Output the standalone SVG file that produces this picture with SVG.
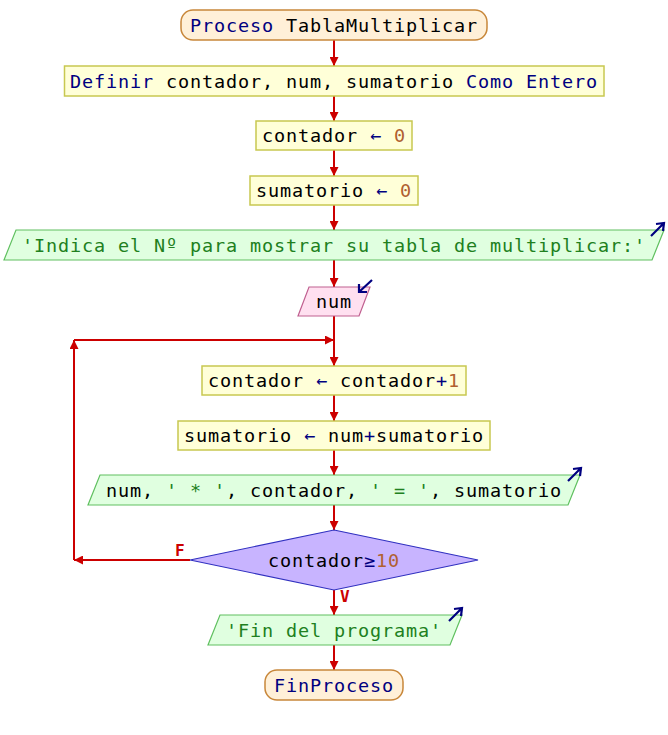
<svg xmlns="http://www.w3.org/2000/svg" width="668" height="735" viewBox="0 0 668 735">
<defs>
<marker id="ah" viewBox="0 0 10 10" refX="10" refY="5" markerWidth="10" markerHeight="9" markerUnits="userSpaceOnUse" orient="auto">
<path d="M0,0 L10,5 L0,10 z" fill="#cc0000"/>
</marker>
<style>
text{font-family:"DejaVu Sans Mono","Liberation Mono",monospace;font-size:18.5px;letter-spacing:0.86px;fill:#000}
.kw{fill:#000080}
.nm{fill:#b06030}
.st{fill:#208020}
.term{fill:#fff0d8;stroke:#c8873a;stroke-width:1.5}
.proc{fill:#ffffd8;stroke:#c8c850;stroke-width:1.5}
.out{fill:#e0ffe0;stroke:#60c060;stroke-width:1.2}
.inp{fill:#ffe0f0;stroke:#c06090;stroke-width:1.2}
.dec{fill:#c8b4ff;stroke:#3030c0;stroke-width:1.2}
.conn{stroke:#cc0000;stroke-width:2;fill:none}
.io{stroke:#000080;stroke-width:2.2;fill:none}
.lab{font-family:"DejaVu Sans Mono",monospace;font-size:16px;font-weight:bold;fill:#cc0000;letter-spacing:0}
</style>
</defs>
<g id="connectors">
<line class="conn" x1="334" y1="40" x2="334" y2="66" marker-end="url(#ah)"/>
<line class="conn" x1="334" y1="96" x2="334" y2="121" marker-end="url(#ah)"/>
<line class="conn" x1="334" y1="150" x2="334" y2="176" marker-end="url(#ah)"/>
<line class="conn" x1="334" y1="205" x2="334" y2="230" marker-end="url(#ah)"/>
<line class="conn" x1="334" y1="260" x2="334" y2="287" marker-end="url(#ah)"/>
<line class="conn" x1="334" y1="316" x2="334" y2="366" marker-end="url(#ah)"/>
<line class="conn" x1="74" y1="340" x2="334" y2="340" marker-end="url(#ah)"/>
<line class="conn" x1="74" y1="560" x2="74" y2="340" marker-end="url(#ah)"/>
<line class="conn" x1="190" y1="560" x2="74" y2="560" marker-end="url(#ah)"/>
<line class="conn" x1="334" y1="395" x2="334" y2="421" marker-end="url(#ah)"/>
<line class="conn" x1="334" y1="450" x2="334" y2="475" marker-end="url(#ah)"/>
<line class="conn" x1="334" y1="505" x2="334" y2="530" marker-end="url(#ah)"/>
<line class="conn" x1="334" y1="590" x2="334" y2="615" marker-end="url(#ah)"/>
<line class="conn" x1="334" y1="645" x2="334" y2="670" marker-end="url(#ah)"/>
<text class="lab" x="175" y="556">F</text>
<text class="lab" x="340" y="602">V</text>
</g>
<g id="start">
<rect class="term" x="181" y="10" width="306" height="30" rx="12"/>
<text x="190" y="31.5"><tspan class="kw">Proceso</tspan> TablaMultiplicar</text>
</g>
<g id="definir">
<rect class="proc" x="64.5" y="66" width="539.5" height="30"/>
<text x="70" y="87.5"><tspan class="kw">Definir</tspan> contador, num, sumatorio <tspan class="kw">Como Entero</tspan></text>
</g>
<g id="asig1">
<rect class="proc" x="256" y="121" width="156" height="29"/>
<text x="262" y="142"><tspan>contador </tspan><tspan class="kw">←</tspan> <tspan class="nm">0</tspan></text>
</g>
<g id="asig2">
<rect class="proc" x="250" y="176" width="168" height="29"/>
<text x="256" y="197"><tspan>sumatorio </tspan><tspan class="kw">←</tspan> <tspan class="nm">0</tspan></text>
</g>
<g id="escribir1">
<polygon class="out" points="16,230 664,230 652,260 4,260"/>
<text x="22" y="251.5" class="st">'Indica el Nº para mostrar su tabla de multiplicar:'</text>
<path class="io" d="M651,236 L664,223 M656,224 L664,223 L663,231"/>
</g>
<g id="leer">
<polygon class="inp" points="309,287 370,287 359,316 298,316"/>
<text x="316" y="308">num</text>
<path class="io" d="M372,280 L359,292 M359,284 L359,292 L367,292"/>
</g>
<g id="asig3">
<rect class="proc" x="202" y="366" width="264" height="29"/>
<text x="208" y="387">contador <tspan class="kw">←</tspan> contador<tspan class="kw">+</tspan><tspan class="nm">1</tspan></text>
</g>
<g id="asig4">
<rect class="proc" x="178" y="421" width="312" height="29"/>
<text x="184" y="442">sumatorio <tspan class="kw">←</tspan> num<tspan class="kw">+</tspan>sumatorio</text>
</g>
<g id="escribir2">
<polygon class="out" points="100,475 580,475 568,505 88,505"/>
<text x="106" y="496.5">num, <tspan class="st">' * '</tspan>, contador, <tspan class="st">' = '</tspan>, sumatorio</text>
<path class="io" d="M568,481 L581,468 M573,469 L581,468 L580,476"/>
</g>
<g id="decision">
<polygon class="dec" points="334,530 478,560 334,590 190,560"/>
<text x="268" y="566.5">contador<tspan class="kw">≥</tspan><tspan class="nm">10</tspan></text>
</g>
<g id="escribir3">
<polygon class="out" points="220,615 462,615 450,645 208,645"/>
<text x="226" y="636.5" class="st">'Fin del programa'</text>
<path class="io" d="M449,621 L462,608 M454,609 L462,608 L461,616"/>
</g>
<g id="end">
<rect class="term" x="265" y="670" width="138" height="30" rx="12"/>
<text x="274" y="691.5" class="kw">FinProceso</text>
</g>
</svg>
